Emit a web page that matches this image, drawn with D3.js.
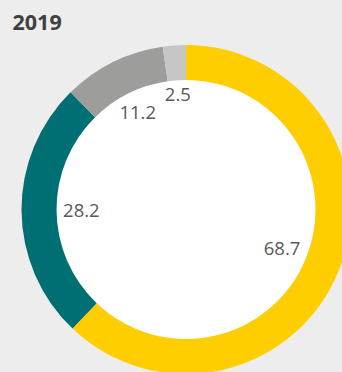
<!DOCTYPE html>
<html><head><meta charset="utf-8">
<script src="https://cdn.jsdelivr.net/npm/d3@7"></script>
<style>
html,body{margin:0;padding:0;background:#ededed;}
svg{display:block;}
</style></head>
<body>
<svg id="chart" width="342" height="372"></svg>
<script>
const title = "2019";
const categories = ["A", "B", "C", "D"];
const values = [68.7, 28.2, 11.2, 2.5];
const labels = ["68.7", "28.2", "11.2", "2.5"];
const colors = ["#FFCE00", "#006F74", "#9D9D9C", "#C6C6C6"];

const W = 342, H = 372;
const cx = 186, cy = 209.5, rOuter = 164.5, rInner = 129.5, rLabelEdge = 123;

const svg = d3.select("#chart");
svg.append("rect").attr("width", W).attr("height", H).attr("fill", "#ededed");

svg.append("text").attr("x", 12.5).attr("y", 29.5)
  .attr("font-family", "'Open Sans', sans-serif").attr("font-weight", 700)
  .attr("font-size", 21.5).attr("fill", "#404040").text(title);

const pie = d3.pie().sort(null).value(d => d)(values);
const arc = d3.arc().innerRadius(rInner).outerRadius(rOuter);
const g = svg.append("g").attr("transform", `translate(${cx},${cy})`);

g.append("circle").attr("r", rInner).attr("fill", "#ffffff");

g.selectAll("path.slice").data(pie).join("path")
  .attr("class", "slice")
  .attr("d", arc)
  .attr("fill", (d, i) => colors[i]);

const lab = g.selectAll("text.lbl").data(pie).join("text")
  .attr("class", "lbl")
  .attr("font-family", "'Open Sans', sans-serif")
  .attr("font-size", 18.5)
  .attr("fill", "#595959")
  .attr("text-anchor", "middle")
  .text((d, i) => labels[i]);

lab.each(function(d) {
  const a = (d.startAngle + d.endAngle) / 2;
  const dx = Math.sin(a), dy = -Math.cos(a);
  const bb = this.getBBox();
  const w = bb.width, h = 13.5;
  const ext = Math.abs(dx) * w / 2 + Math.abs(dy) * h / 2;
  const r = rLabelEdge - ext;
  const x = dx * r, y = dy * r;
  d3.select(this).attr("x", x).attr("y", y + h / 2);
});
</script>
</body></html>
